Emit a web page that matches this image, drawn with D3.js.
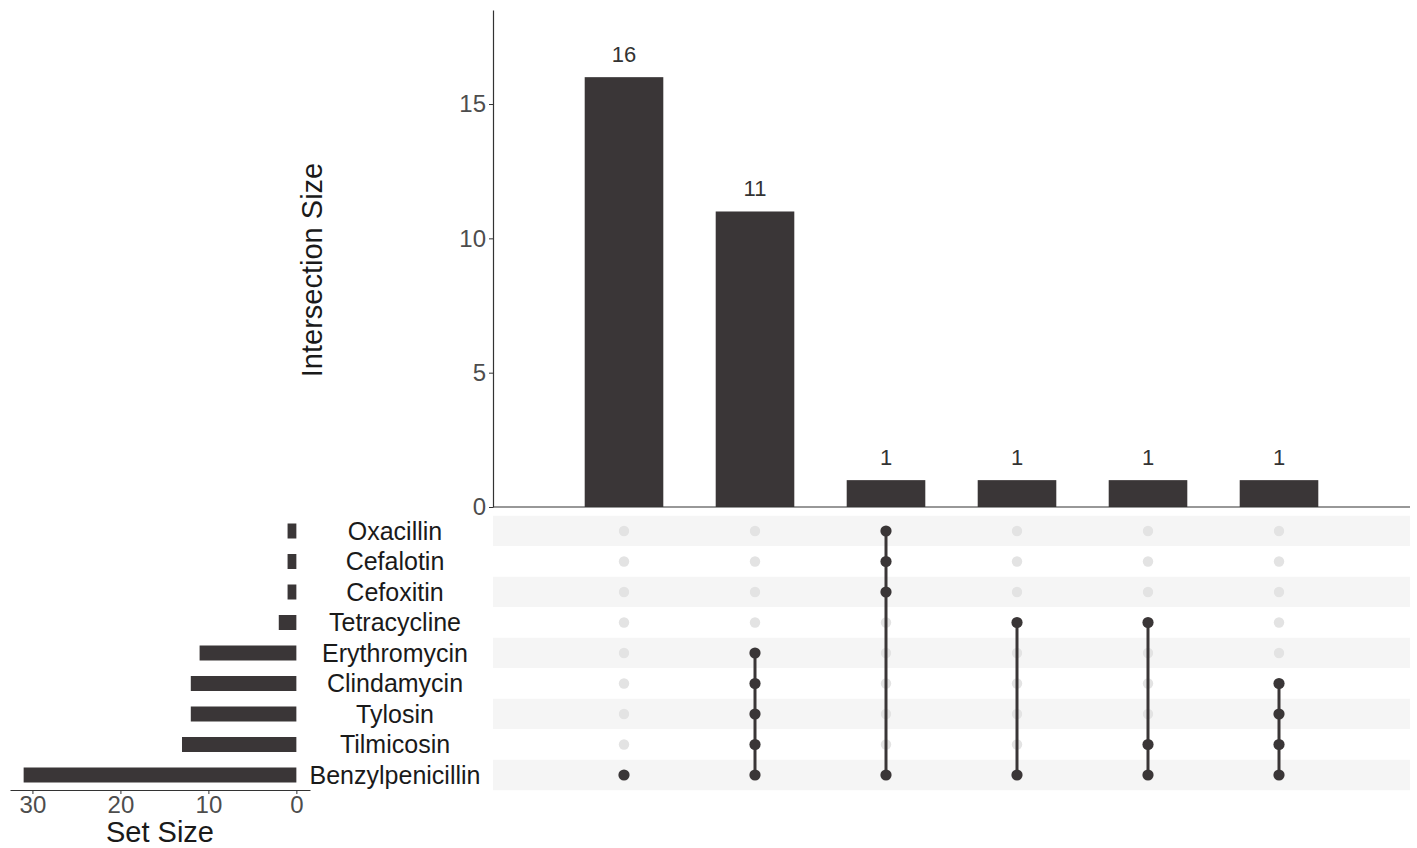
<!DOCTYPE html>
<html><head><meta charset="utf-8">
<script src="https://cdn.jsdelivr.net/npm/d3@7"></script>
<style>body{margin:0;background:#fff}svg{display:block;font-family:"Liberation Sans",Arial,sans-serif}</style>
</head><body><svg id="c" width="1417" height="848"></svg>
<script>
const sets = ["Oxacillin","Cefalotin","Cefoxitin","Tetracycline","Erythromycin","Clindamycin","Tylosin","Tilmicosin","Benzylpenicillin"];
const setSizes = [1,1,1,2,11,12,12,13,31];
const intersectionSizes = [16,11,1,1,1,1];
const intersectionMembers = [
  ["Benzylpenicillin"],
  ["Erythromycin","Clindamycin","Tylosin","Tilmicosin","Benzylpenicillin"],
  ["Oxacillin","Cefalotin","Cefoxitin","Benzylpenicillin"],
  ["Tetracycline","Benzylpenicillin"],
  ["Tetracycline","Tilmicosin","Benzylpenicillin"],
  ["Clindamycin","Tylosin","Tilmicosin","Benzylpenicillin"]
];
const intersectionTicks = [0,5,10,15];
const setSizeTicks = [0,10,20,30];

const dark = "#3a3637", light = "#e3e3e3", stripe = "#f5f5f5";
const svg = d3.select("#c");

// scales
const x = d3.scaleLinear().domain([0, intersectionSizes.length + 1]).range([493, 1410]);
const y = d3.scaleLinear().domain([0, 18.5]).range([507, 10]);
const rowStep = 30.5;
const row = d3.scaleLinear().domain([0, sets.length - 1]).range([531, 531 + rowStep * (sets.length - 1)]);
const xs = d3.scaleLinear().domain([-1.55, 32.55]).range([310, 10]);
const barW = 0.6 * (x(1) - x(0));

// stripes
svg.append("g").selectAll("rect").data(sets).join("rect")
  .attr("x", x(0)).attr("width", x.range()[1] - x(0))
  .attr("y", (d,i) => row(i) - rowStep/2).attr("height", rowStep)
  .attr("fill", (d,i) => i % 2 === 0 ? stripe : "#fff");

// intersection bars
svg.append("g").selectAll("rect").data(intersectionSizes).join("rect")
  .attr("x", (d,i) => x(i+1) - barW/2).attr("width", barW)
  .attr("y", d => y(d)).attr("height", d => y(0) - y(d))
  .attr("fill", dark);
svg.append("g").selectAll("text").data(intersectionSizes).join("text")
  .attr("x", (d,i) => x(i+1)).attr("y", d => y(d) - 15)
  .attr("text-anchor", "middle").attr("font-size", 22).attr("fill", "#333")
  .text(d => d);

// top y axis
const yAxis = svg.append("g").attr("transform", `translate(${x(0)},0)`)
  .call(d3.axisLeft(y).tickValues(intersectionTicks).tickSize(4).tickSizeOuter(0));
yAxis.select(".domain").attr("stroke", "#333").attr("stroke-width", 1.2);
yAxis.selectAll(".tick line").attr("stroke", "#333");
yAxis.selectAll(".tick text").attr("font-size", 24).attr("fill", "#4d4d4d").attr("x", -7);
// baseline
svg.append("line").attr("x1", x(0)).attr("x2", x.range()[1]).attr("y1", y(0)).attr("y2", y(0))
  .attr("stroke", "#333").attr("stroke-width", 1.2);
svg.append("text").attr("transform", `translate(322,270) rotate(-90)`)
  .attr("text-anchor", "middle").attr("font-size", 29).attr("fill", "#1a1a1a").text("Intersection Size");

// matrix
const mat = svg.append("g");
intersectionMembers.forEach((mem, i) => {
  const idx = mem.map(m => sets.indexOf(m));
  sets.forEach((s, j) => {
    if (!mem.includes(s)) mat.append("circle").attr("cx", x(i+1)).attr("cy", row(j)).attr("r", 5.2).attr("fill", light);
  });
  if (idx.length > 1) {
    mat.append("line").attr("x1", x(i+1)).attr("x2", x(i+1))
      .attr("y1", row(d3.min(idx))).attr("y2", row(d3.max(idx)))
      .attr("stroke", dark).attr("stroke-width", 3);
  }
  idx.forEach(j => mat.append("circle").attr("cx", x(i+1)).attr("cy", row(j)).attr("r", 5.6).attr("fill", dark));
});

// set names
svg.append("g").selectAll("text").data(sets).join("text")
  .attr("x", 395).attr("y", (d,i) => row(i)).attr("dy", "0.35em")
  .attr("text-anchor", "middle").attr("font-size", 25).attr("fill", "#1a1a1a").text(d => d);

// set size bars
svg.append("g").selectAll("rect").data(setSizes).join("rect")
  .attr("x", d => xs(d)).attr("width", d => xs(0) - xs(d))
  .attr("y", (d,i) => row(i) - 7.5).attr("height", 15).attr("fill", dark);

const xAxis = svg.append("g").attr("transform", "translate(0,790)")
  .call(d3.axisBottom(xs).tickValues(setSizeTicks).tickSize(4).tickSizeOuter(0));
xAxis.select(".domain").attr("stroke", "#333").attr("stroke-width", 1.2);
xAxis.selectAll(".tick line").attr("stroke", "#333");
xAxis.selectAll(".tick text").attr("font-size", 24).attr("fill", "#4d4d4d").attr("y", 6);
svg.append("text").attr("x", 160).attr("y", 842).attr("text-anchor", "middle")
  .attr("font-size", 29).attr("fill", "#1a1a1a").text("Set Size");
</script></body></html>
